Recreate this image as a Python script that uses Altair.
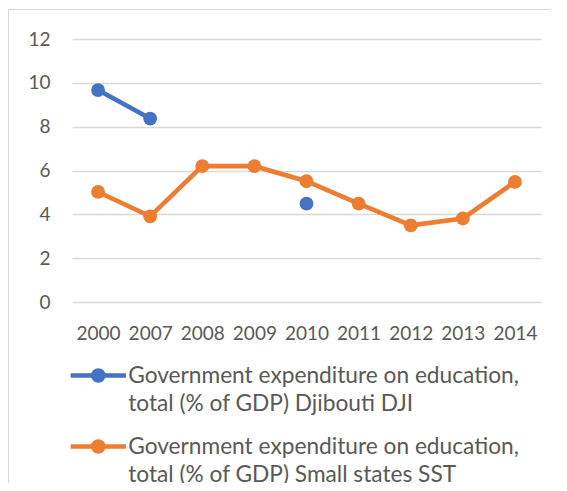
import altair as alt
import pandas as pd

years = ["2000", "2007", "2008", "2009", "2010", "2011", "2012", "2013", "2014"]
djibouti = [9.67, 8.37, None, None, 4.49, None, None, None, None]
small_states = [5.02, 3.91, 6.2, 6.2, 5.51, 4.49, 3.5, 3.81, 5.48]
series_names = [
    "Government expenditure on education, total (% of GDP) Djibouti DJI",
    "Government expenditure on education, total (% of GDP) Small states SST",
]
colors = ["#4472C4", "#ED7D31"]

rows = []
for name, vals in zip(series_names, [djibouti, small_states]):
    for y, v in zip(years, vals):
        rows.append({"year": y, "value": v, "series": name})
df = pd.DataFrame(rows)

W, H = 469, 263
PAD = {"left": 64, "top": 31, "right": 10, "bottom": 181}
FONT = "Lato"
TXT = "#595959"

# legend symbol: line with a dot, drawn as stroked path (unit = sqrt(size)/2 px)
S = 52
sym_size = S * S
u = S / 2
half = 27.6 / u
rs = [5.1 / u, 2.9 / u, 0.7 / u]
path = f"M{-half:.3f},0 L{half:.3f},0 "
for r in rs:
    path += (f"M{-r:.3f},0 A{r:.3f},{r:.3f} 0 1,0 {r:.3f},0 "
             f"A{r:.3f},{r:.3f} 0 1,0 {-r:.3f},0 ")

leg = alt.Legend(
    title=None,
    orient="none",
    legendX=-2.2,
    legendY=308,
    direction="vertical",
    symbolType=path,
    symbolSize=sym_size,
    symbolStrokeWidth=4.4,
    labelFont=FONT,
    labelFontSize=22.7,
    labelColor=TXT,
    labelLimit=600,
    labelOffset=1.4,
    labelExpr="[slice(datum.label, 0, 36), slice(datum.label, 37)]",
)

color = alt.Color(
    "series:N",
    scale=alt.Scale(domain=series_names, range=colors),
    legend=leg,
)

x = alt.X(
    "year:O",
    sort=years,
    title=None,
    axis=alt.Axis(labelAngle=0, labelFont=FONT, labelFontSize=19, labelColor=TXT,
                  ticks=False, domain=False, labelPadding=22, grid=False),
)
y = alt.Y(
    "value:Q",
    title=None,
    scale=alt.Scale(domain=[0, 12]),
    axis=alt.Axis(values=[0, 2, 4, 6, 8, 10, 12], labelFont=FONT, labelFontSize=19,
                  labelColor=TXT, ticks=False, domain=False, labelPadding=22,
                  grid=True, gridColor="#d9d9d9", gridWidth=1.3),
)

base = alt.Chart(df)
lines = base.mark_line(strokeWidth=4.6, opacity=1).encode(x=x, y=y, color=color)
points = base.mark_point(filled=True, size=190, opacity=1).encode(x=x, y=y, color=color)

frame_df = pd.DataFrame({"a": [0]})
left_border = alt.Chart(frame_df).mark_rule(color="#d9d9d9", strokeWidth=1.2).encode(
    x=alt.value(-63.5), y=alt.value(-30), y2=alt.value(H + PAD["bottom"]))
top_border = alt.Chart(frame_df).mark_rule(color="#d9d9d9", strokeWidth=1.2).encode(
    x=alt.value(-64), x2=alt.value(W + PAD["right"]), y=alt.value(-29.5))

chart = alt.layer(left_border, top_border, lines, points).properties(
    width=W, height=H, padding=PAD, autosize=alt.AutoSizeParams(type="none"),
    background="white",
).configure(
    style={"guide-label": {"lineHeight": 28}}
).configure_view(stroke=None)

chart.save("out.html", embed_options={"renderer": "svg", "actions": False})
